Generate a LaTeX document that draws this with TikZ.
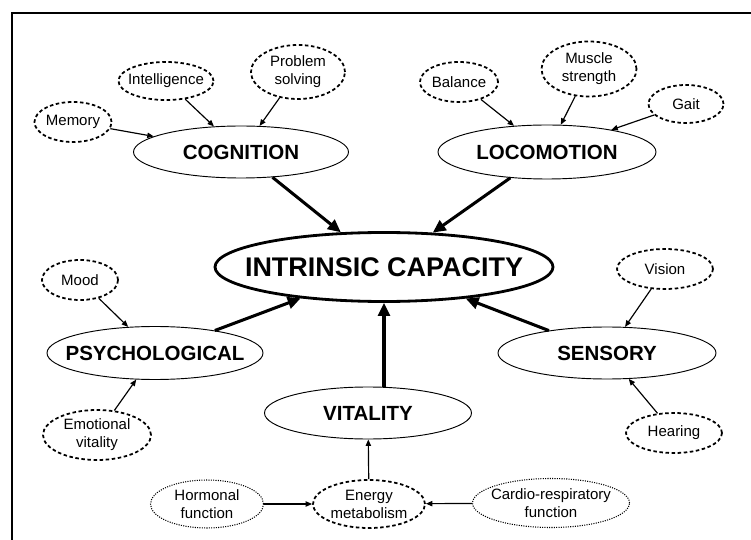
\documentclass[tikz,border=0pt]{standalone}
\usepackage{fontspec}
\setmainfont{Liberation Sans}
\usetikzlibrary{shapes.geometric,arrows.meta}

\tikzset{
  mainell/.style={ellipse,draw,line width=0.8pt,inner xsep=-1.5cm,inner ysep=0pt,
    font=\fontsize{17.5}{20}\selectfont\bfseries},
  subell/.style={ellipse,draw,line width=1.5pt,dash pattern=on 3pt off 2.2pt,
    inner xsep=-0.5cm,inner ysep=0pt,align=center,font=\fontsize{12.8}{15.4}\selectfont},
  dotell/.style={subell,line width=0.9pt,dash pattern=on 0.9pt off 1.1pt},
  bigarr/.style={-{Triangle[length=11pt,width=10pt]},line width=2.6pt},
  smallarr/.style={-{Triangle[length=5.5pt,width=4.5pt]},line width=1pt}
}

\begin{document}
\begin{tikzpicture}[x=0.03cm,y=-0.03cm]
    \useasboundingbox (0,0) rectangle (751,540);
    \draw[line width=1.8pt,line join=miter] (12,540) -- (12,13) -- (751,13);

    % centre and the five domains
    \node[mainell,line width=2.4pt,minimum width=10.14cm,minimum height=2.07cm,
      font=\fontsize{23}{26}\selectfont\bfseries] (ic) at (384,267) {INTRINSIC CAPACITY};
    \node[mainell,minimum width=6.45cm,minimum height=1.56cm] (cog) at (241,152) {COGNITION};
    \node[mainell,minimum width=6.54cm,minimum height=1.62cm] (loc) at (547,152) {LOCOMOTION};
    \node[mainell,minimum width=6.48cm,minimum height=1.59cm] (psy) at (155,353) {PSYCHOLOGICAL};
    \node[mainell,minimum width=6.54cm,minimum height=1.56cm] (sens) at (607,353) {SENSORY};
    \node[mainell,minimum width=6.21cm,minimum height=1.56cm] (vit) at (368,413) {VITALITY};

    % sub-domains
    \node[subell,minimum width=2.31cm,minimum height=1.2cm] (mem) at (73,122) {Memory};
    \node[subell,minimum width=2.85cm,minimum height=1.14cm] (intel) at (166,81) {Intelligence};
    \node[subell,minimum width=2.82cm,minimum height=1.62cm] (prob) at (298,72) {Problem\\solving};
    \node[subell,minimum width=2.34cm,minimum height=1.2cm] (bal) at (459,82) {Balance};
    \node[subell,minimum width=2.85cm,minimum height=1.65cm] (musc) at (589,69) {Muscle\\strength};
    \node[subell,minimum width=2.25cm,minimum height=1.14cm] (gait) at (686,104) {Gait};
    \node[subell,minimum width=2.28cm,minimum height=1.2cm] (mood) at (80,280) {Mood};
    \node[subell,minimum width=3.24cm,minimum height=1.5cm] (emo) at (97,435) {Emotional\\vitality};
    \node[subell,minimum width=2.88cm,minimum height=1.2cm] (vis) at (665,269) {Vision};
    \node[subell,minimum width=2.88cm,minimum height=1.2cm] (hear) at (674,433) {Hearing};
    \node[subell,minimum width=3.36cm,minimum height=1.44cm] (energy) at (369,504) {Energy\\metabolism};
    \node[dotell,minimum width=3.39cm,minimum height=1.44cm] (horm) at (207,504) {Hormonal\\function};
    \node[dotell,minimum width=4.71cm,minimum height=1.47cm] (cardio) at (551,503) {Cardio-respiratory\\function};

    % domains into intrinsic capacity
    \draw[bigarr] (cog) -- (ic);
    \draw[bigarr] (loc) -- (ic);
    \draw[bigarr] (psy) -- (ic);
    \draw[bigarr] (sens) -- (ic);
    \draw[bigarr] (vit.north -| ic.south) -- (ic.south);

    % sub-domains into domains
    \foreach \a/\b in {mem/cog,intel/cog,prob/cog,bal/loc,musc/loc,gait/loc,
                       mood/psy,emo/psy,vis/sens,hear/sens,energy/vit,horm/energy,cardio/energy}
      \draw[smallarr] (\a) -- (\b);
\end{tikzpicture}
\end{document}
